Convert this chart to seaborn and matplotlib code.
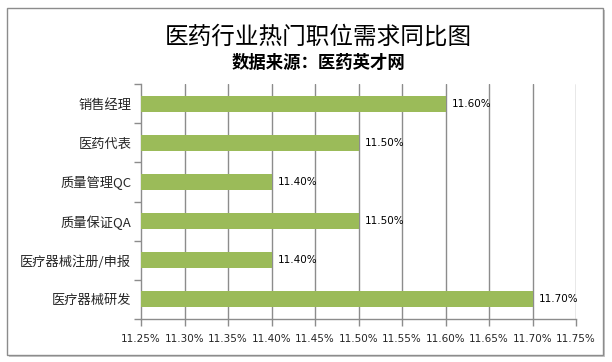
import matplotlib
matplotlib.use("Agg")
import matplotlib.pyplot as plt
import matplotlib.patches as mpatches
from matplotlib.ticker import FuncFormatter
import seaborn as sns
import pandas as pd

# Chart data
jobs = ["销售经理", "医药代表", "质量管理QC", "质量保证QA", "医疗器械注册/申报", "医疗器械研发"]
demand_pct = [11.60, 11.50, 11.40, 11.50, 11.40, 11.70]
x_ticks = [11.25, 11.30, 11.35, 11.40, 11.45, 11.50, 11.55, 11.60, 11.65, 11.70, 11.75]

title = "医药行业热门职位需求同比图"
subtitle = "数据来源：医药英才网"

bar_color = "#9BBB59"
grid_color = "#8C8C8C"

sns.set_theme(style="white")
plt.rcParams["font.family"] = ["Noto Sans CJK SC", "DejaVu Sans"]

df = pd.DataFrame({"job": jobs, "pct": demand_pct})

fig = plt.figure(figsize=(6.12, 3.62), dpi=100)
fig.patch.set_facecolor("white")

# outer frame with a light shadow
W, H = 612, 362
shadow = mpatches.Rectangle((9 / W, 1 - 357 / H), 596 / W, 347 / H,
                            transform=fig.transFigure, facecolor="#C8C8C8",
                            edgecolor="none", zorder=-2)
frame = mpatches.Rectangle((7 / W, 1 - 355 / H), 596 / W, 347 / H,
                           transform=fig.transFigure, facecolor="white",
                           edgecolor="#8C8C8C", linewidth=1.0, zorder=-1)
fig.patches.extend([shadow, frame])

ax = fig.add_axes([141 / W, 1 - 319 / H, 435 / W, 235 / H])
ax.set_facecolor("none")

sns.barplot(data=df, x="pct", y="job", orient="h", color=bar_color,
            width=0.41, saturation=1, linewidth=0, ax=ax, zorder=3)

ax.set_xlim(x_ticks[0], x_ticks[-1])
ax.set_xticks(x_ticks)
ax.xaxis.set_major_formatter(FuncFormatter(lambda v, p: f"{v:.2f}%"))
ax.set_ylim(len(jobs) - 0.5, -0.5)

# vertical gridlines
for v in x_ticks[1:]:
    ax.axvline(v, color=grid_color, linewidth=1.0, zorder=1)

# value labels
for i, v in enumerate(demand_pct):
    ax.text(v + 0.007, i, f"{v:.2f}%", va="center", ha="left",
            fontsize=7.5, color="black", family=["DejaVu Sans"], zorder=4)

ax.set_xlabel("")
ax.set_ylabel("")

for side in ["top", "right"]:
    ax.spines[side].set_visible(False)
for side in ["left", "bottom"]:
    ax.spines[side].set_color(grid_color)
    ax.spines[side].set_linewidth(1.0)

# category ticks at the boundaries
ax.set_yticks([i - 0.5 for i in range(len(jobs) + 1)], minor=True)
ax.tick_params(axis="y", which="major", length=0, pad=7, labelsize=9.5)
ax.tick_params(axis="y", which="minor", left=True, length=5, width=1.0,
               color=grid_color, direction="out")
ax.tick_params(axis="x", bottom=True, length=5, width=1.0, color=grid_color,
               direction="out", labelsize=7.5, pad=6)
for lbl in ax.get_xticklabels():
    lbl.set_family(["DejaVu Sans"])

fig.text(318 / W, 1 - 37.5 / H, title, ha="center", va="center",
         fontsize=17, color="black")
fig.text(318 / W, 1 - 62.5 / H, subtitle, ha="center", va="center",
         fontsize=12.5, fontweight="bold", color="black")

fig.savefig("out.png", dpi=100)
